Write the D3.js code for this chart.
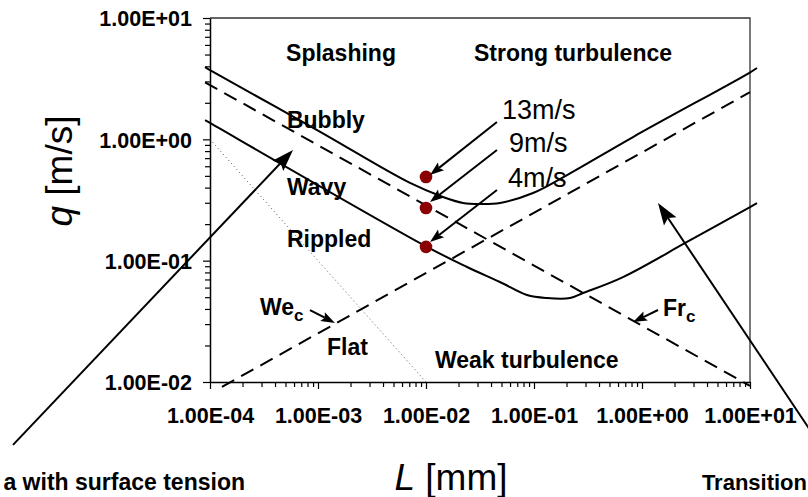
<!DOCTYPE html>
<html>
<head>
<meta charset="utf-8">
<script src="https://cdn.jsdelivr.net/npm/d3@7"></script>
<style>
  html, body { margin: 0; padding: 0; background: #fff; }
  svg { display: block; font-family: "Liberation Sans", Arial, Helvetica, sans-serif; }
</style>
</head>
<body>
<svg id="chart" width="808" height="497"></svg>
<script>
// Regime map of the free surface: velocity scale q [m/s] against length scale L [mm], log–log.
const xDomain = [1e-4, 10];
const yDomain = [1e-2, 10];
const xMajorTicks = [1e-4, 1e-3, 1e-2, 1e-1, 1, 10];
const yMajorTicks = [1e-2, 1e-1, 1, 10];

// Upper solid boundary (bubbly / strong turbulence)
const upperL = [9e-5, 1e-4, 1e-3, 0.00711, 0.01436, 0.02203, 0.03162, 0.04842, 0.09795, 0.2023, 0.826, 9.795, 11.6];
const upperQ = [3.93, 3.72, 1.18, 0.437, 0.335, 0.299, 0.293, 0.299, 0.361, 0.508, 1.045, 3.52, 3.87];

// Lower solid boundary (rippled / weak turbulence)
const lowerL = [9e-5, 1e-4, 0.0102, 0.024, 0.0484, 0.0861, 0.1318, 0.2153, 0.2844, 0.6668, 2.612, 10, 11.6];
const lowerQ = [1.44, 1.365, 0.130, 0.0887, 0.0667, 0.0521, 0.0492, 0.0492, 0.0541, 0.0733, 0.1426, 0.2767, 0.2985];

// Critical Froude and Weber lines (dashed) and the thin dotted line
const froudeL = [9e-5, 10];
const froudeQ = [2.95, 0.0093];
const weberL = [1.29e-4, 10];
const weberQ = [0.0091, 2.45];
const dottedL = [1e-4, 1e-2];
const dottedQ = [1.0, 0.01];

// Measured points at L = 0.01 mm for three wind speeds
const windLabels = ["13m/s", "9m/s", "4m/s"];
const pointL = [0.01, 0.01, 0.01];
const pointQ = [0.49, 0.272, 0.13];

// Arrows: start (L, q) → tip (L, q), with head size class
const arrowFromL = [1.5e-6, 44.5, 0.0454, 0.0454, 0.0454, 8.43e-4, 1.406];
const arrowFromQ = [0.00303, 0.00303, 1.39, 0.817, 0.382, 0.0392, 0.0392];
const arrowToL   = [5.87e-4, 1.406, 0.01089, 0.01089, 0.01089, 1.435e-3, 0.826];
const arrowToQ   = [0.817, 0.2985, 0.508, 0.304, 0.1426, 0.0306, 0.0312];
const arrowSize  = ["big", "big", "small", "small", "small", "small", "small"];

// Region names (bold) placed at (L, q), text starts there
const regionText = ["Splashing", "Strong turbulence", "Bubbly", "Wavy", "Rippled", "Flat", "Weak turbulence"];
const regionL = [5.06e-4, 0.0278, 5.16e-4, 5.16e-4, 5.16e-4, 1.21e-3, 0.0121];
const regionQ = [4.43, 4.43, 1.24, 0.348, 0.130, 0.0167, 0.0130];

// Line labels with subscript
const critText = ["We", "Fr"];
const critL = [2.90e-4, 1.563];
const critQ = [0.0356, 0.035];

// Wind speed label positions
const windTextL = [0.0506, 0.0587, 0.0574];
const windTextQ = [1.47, 0.787, 0.405];

const svg = d3.select("#chart");
const x = d3.scaleLog().domain(xDomain).range([210, 750]);
const y = d3.scaleLog().domain(yDomain).range([382, 18]);

svg.append("rect").attr("width", 808).attr("height", 497).attr("fill", "#fff");

// Frame top and right
svg.append("path")
  .attr("d", `M${x(xDomain[0])},${y(yDomain[1])}H${x(xDomain[1])}V${y(yDomain[0])}`)
  .attr("fill", "none").attr("stroke", "#333").attr("stroke-width", 1.3);

// Formatter: 1.00E+01 style for decades, blank for minor ticks
function sci(v) {
  const e = Math.round(Math.log10(v));
  if (Math.abs(Math.log10(v) - e) > 1e-9) return "";
  const sign = e < 0 ? "-" : "+";
  return "1.00E" + sign + String(Math.abs(e)).padStart(2, "0");
}
const isMajor = v => Math.abs(Math.log10(v) - Math.round(Math.log10(v))) < 1e-9;

// X axis
const xAxis = svg.append("g")
  .attr("transform", `translate(0,${y(yDomain[0])})`)
  .call(d3.axisBottom(x).ticks(10).tickFormat(sci).tickSizeOuter(0));
xAxis.select(".domain").attr("stroke", "#000").attr("stroke-width", 1.5);
xAxis.selectAll(".tick line").attr("stroke", "#000").attr("stroke-width", 1.2)
  .attr("y2", d => isMajor(d) ? 7 : 5);
xAxis.selectAll(".tick text")
  .attr("y", 26).attr("dy", "0.71em").attr("text-anchor", "middle")
  .attr("font-size", 21.5).attr("font-weight", "bold").attr("fill", "#000")
  .attr("font-family", "\"Liberation Sans\", Arial, sans-serif");

// Y axis
const yAxis = svg.append("g")
  .attr("transform", `translate(${x(xDomain[0])},0)`)
  .call(d3.axisLeft(y).ticks(10).tickFormat(sci).tickSizeOuter(0));
yAxis.select(".domain").attr("stroke", "#000").attr("stroke-width", 1.5);
yAxis.selectAll(".tick line").attr("stroke", "#000").attr("stroke-width", 1.2)
  .attr("x2", d => isMajor(d) ? -7 : -5);
yAxis.selectAll(".tick text")
  .attr("x", -18).attr("dy", "0.36em")
  .attr("font-size", 21.5).attr("font-weight", "bold").attr("fill", "#000")
  .attr("font-family", "\"Liberation Sans\", Arial, sans-serif");

// Curves
const line = d3.line().x(d => x(d[0])).y(d => y(d[1]));
const smooth = d3.line().x(d => x(d[0])).y(d => y(d[1])).curve(d3.curveCatmullRom.alpha(0.5));
const zipPts = (a, b) => a.map((v, i) => [v, b[i]]);

svg.append("path").datum(zipPts(dottedL, dottedQ)).attr("d", line)
  .attr("fill", "none").attr("stroke", "#555").attr("stroke-width", 1)
  .attr("stroke-dasharray", "1,3");

svg.append("path").datum(zipPts(froudeL, froudeQ)).attr("d", line)
  .attr("fill", "none").attr("stroke", "#000").attr("stroke-width", 2)
  .attr("stroke-dasharray", "14,8");
svg.append("path").datum(zipPts(weberL, weberQ)).attr("d", line)
  .attr("fill", "none").attr("stroke", "#000").attr("stroke-width", 2)
  .attr("stroke-dasharray", "14,8");

svg.append("path").datum(zipPts(upperL, upperQ)).attr("d", smooth)
  .attr("fill", "none").attr("stroke", "#000").attr("stroke-width", 2);
svg.append("path").datum(zipPts(lowerL, lowerQ)).attr("d", smooth)
  .attr("fill", "none").attr("stroke", "#000").attr("stroke-width", 2);

// Measured points
svg.append("g").selectAll("circle").data(pointL).join("circle")
  .attr("cx", d => x(d)).attr("cy", (d, i) => y(pointQ[i])).attr("r", 6.3)
  .attr("fill", "#8b0000");

// Arrows with filled heads
const heads = { big: { len: 22, half: 7.5, notch: 4 }, small: { len: 14, half: 5, notch: 2.5 } };
const arrowG = svg.append("g");
arrowFromL.forEach((l0, i) => {
  const x0 = x(l0), y0 = y(arrowFromQ[i]);
  const x1 = x(arrowToL[i]), y1 = y(arrowToQ[i]);
  const h = heads[arrowSize[i]];
  const ang = Math.atan2(y1 - y0, x1 - x0);
  const ux = Math.cos(ang), uy = Math.sin(ang);
  const bx = x1 - ux * h.len, by = y1 - uy * h.len;
  const nx = x1 - ux * (h.len - h.notch), ny = y1 - uy * (h.len - h.notch);
  arrowG.append("line").attr("x1", x0).attr("y1", y0).attr("x2", nx).attr("y2", ny)
    .attr("stroke", "#000").attr("stroke-width", 2);
  arrowG.append("path")
    .attr("d", `M${x1},${y1}L${bx - uy * h.half},${by + ux * h.half}L${nx},${ny}L${bx + uy * h.half},${by - ux * h.half}Z`)
    .attr("fill", "#000");
});

// Region names
svg.append("g").selectAll("text").data(regionText).join("text")
  .attr("x", (d, i) => x(regionL[i])).attr("y", (d, i) => y(regionQ[i]))
  .attr("font-size", 23).attr("font-weight", "bold").attr("fill", "#000")
  .text(d => d);

// Critical line labels with subscript c
critText.forEach((t, i) => {
  const txt = svg.append("text")
    .attr("x", x(critL[i])).attr("y", y(critQ[i]))
    .attr("font-size", 23).attr("font-weight", "bold").attr("fill", "#000");
  txt.append("tspan").text(t);
  txt.append("tspan").attr("font-size", 17).attr("dy", 6).text("c");
});

// Wind speed labels
svg.append("g").selectAll("text").data(windLabels).join("text")
  .attr("x", (d, i) => x(windTextL[i])).attr("y", (d, i) => y(windTextQ[i]))
  .attr("font-size", 27).attr("fill", "#000")
  .text(d => d);

// Axis titles
const yt = svg.append("text")
  .attr("transform", "translate(72,171) rotate(-90)")
  .attr("text-anchor", "middle").attr("font-size", 37).attr("fill", "#000");
yt.append("tspan").attr("font-style", "italic").text("q");
yt.append("tspan").text(" [m/s]");

const xt = svg.append("text")
  .attr("x", 451).attr("y", 490)
  .attr("text-anchor", "middle").attr("font-size", 37).attr("fill", "#000");
xt.append("tspan").attr("font-style", "italic").text("L");
xt.append("tspan").text(" [mm]");

// Notes below the chart
svg.append("text").attr("x", 245).attr("y", 490).attr("text-anchor", "end")
  .attr("font-size", 23).attr("font-weight", "bold").attr("fill", "#000")
  .text("a with surface tension");
svg.append("text").attr("x", 807).attr("y", 490).attr("text-anchor", "end")
  .attr("font-size", 22).attr("font-weight", "bold").attr("fill", "#000")
  .text("Transition");
</script>
</body>
</html>
